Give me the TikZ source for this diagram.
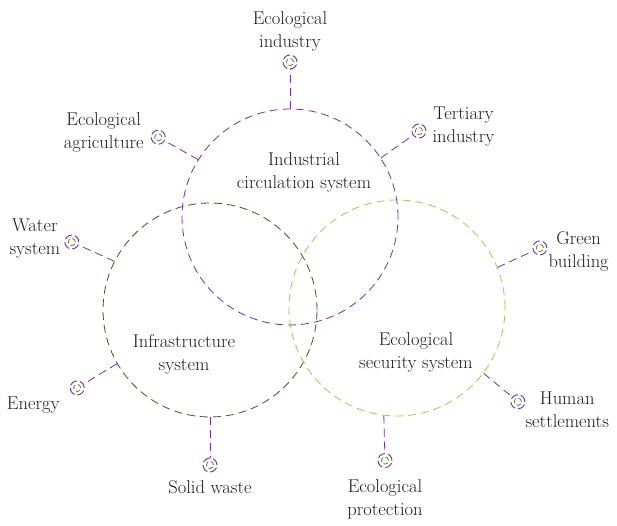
\documentclass[tikz,border=0pt]{standalone}
\usepackage{tikz}
\usetikzlibrary{positioning,calc}

\definecolor{sysviolet}{RGB}{112,48,160}
\definecolor{sysdark}{RGB}{56,87,35}
\definecolor{syslight}{RGB}{146,208,80}
\definecolor{sysmid}{RGB}{84,130,53}
\definecolor{txtgray}{RGB}{30,27,28}

\tikzset{
  sys/.style={circle,draw,minimum size=216pt,inner sep=0pt,line width=0.8pt,dash pattern=on 8pt off 5pt},
  icon/.style={circle,draw=sysviolet,minimum size=14pt,inner sep=0pt,line width=0.9pt,dash pattern=on 8pt off 3pt,
    path picture={\draw[sysmid,line width=0.8pt,dash pattern=on 5pt off 2.5pt] (path picture bounding box.center) circle (3.6pt);}},
  link/.style={sysviolet,line width=0.8pt,dash pattern=on 8pt off 5pt},
  lbl/.style={align=center,text=txtgray,font=\fontsize{18.5}{23}\selectfont,inner sep=1pt}
}

\begin{document}
\begin{tikzpicture}[x=1pt,y=1pt]
    \useasboundingbox (0,0) rectangle (617,526);
    %systems
    \node[sys,draw=sysdark,minimum size=214pt] (inf) at (210,216) {};
    \node[sys,draw=syslight] (ess) at (397,218) {};
    \node[sys,draw=sysviolet] (ics) at (290,309) {};
    \node[lbl] (icst) at (304,354) {Industrial\\circulation system};
    \node[lbl] (inft) at (184,172) {Infrastructure\\system};
    \node[lbl] (esst) at (416,174) {Ecological\\security system};

    %Industrial circulation system
    \node[icon] (ind) at ($(ics.center)+(90:155)$) {};
    \node[icon] (ter) at ($(ics.center)+(33.7:155)$) {};
    \node[icon] (agr) at ($(ics.center)+(148.8:154)$) {};
    \draw[link] (ics.90) -- (ind);
    \draw[link] (ics.33.7) -- (ter);
    \draw[link] (ics.148.8) -- (agr);
    \node[lbl,above=2pt of ind] (indt) {Ecological\\industry};
    \node[lbl,right=5pt of ter,yshift=4pt] (tert) {Tertiary\\industry};
    \node[lbl,left=6pt of agr,yshift=5pt] (agrt) {Ecological\\agriculture};

    %Infrastructure system
    \node[icon] (wat) at ($(inf.center)+(153.8:154)$) {};
    \node[icon] (eng) at ($(inf.center)+(210.4:154)$) {};
    \node[icon] (sol) at ($(inf.center)+(270:155)$) {};
    \draw[link] (inf.153.8) -- (wat);
    \draw[link] (inf.210.4) -- (eng);
    \draw[link] (inf.270) -- (sol);
    \node[lbl,left=3pt of wat,yshift=3pt] (watt) {Water\\system};
    \node[lbl,left=9pt of eng,yshift=-17pt] (engt) {Energy};
    \node[lbl,below=7pt of sol] (solt) {Solid waste};

    %Ecological security system
    \node[icon] (grn) at ($(ess.center)+(22.8:155)$) {};
    \node[icon] (hum) at ($(ess.center)+(-37.8:153)$) {};
    \node[icon] (pro) at ($(ess.center)+(265.5:153)$) {};
    \draw[link] (ess.22.8) -- (grn);
    \draw[link] (ess.-37.8) -- (hum);
    \draw[link] (ess.263.6) -- (pro);
    \node[lbl,right=0pt of grn,yshift=-3pt] (grnt) {Green\\building};
    \node[lbl,right=-1pt of hum,yshift=-8pt] (humt) {Human\\settlements};
    \node[lbl,below=10pt of pro] (prot) {Ecological\\protection};
\end{tikzpicture}
\end{document}
